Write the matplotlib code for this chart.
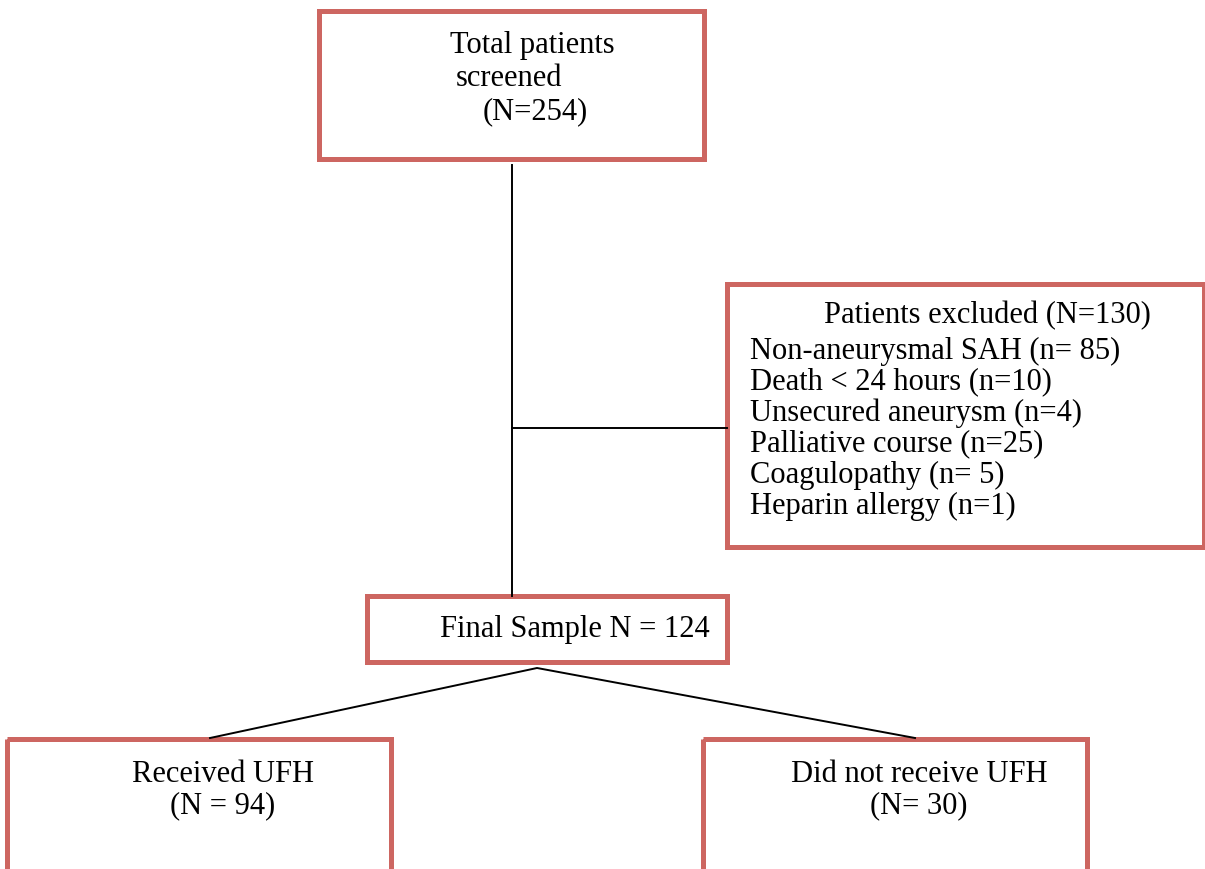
import matplotlib
matplotlib.use("Agg")
import matplotlib.pyplot as plt
from matplotlib.patches import Rectangle

# -- counts in the flow
total_n = 254
excluded_n = 130
final_n = 124
ufh_n = 94
no_ufh_n = 30

exclusion_reasons = ["Non-aneurysmal SAH (n= 85)", "Death < 24 hours (n=10)",
                     "Unsecured aneurysm (n=4)", "Palliative course (n=25)",
                     "Coagulopathy (n= 5)", "Heparin allergy (n=1)"]

RED = "#cd6661"
FONT = "Liberation Serif"
FS = 22

fig = plt.figure(figsize=(12.05, 8.69), dpi=100)
ax = fig.add_axes([0, 0, 1, 1])
ax.set_xlim(0, 1205)
ax.set_ylim(869, 0)
ax.axis("off")


def box(x0, y0, x1, y1):
    ax.add_patch(Rectangle((x0, y0), x1 - x0, y1 - y0, fill=False,
                           edgecolor=RED, linewidth=3.6, clip_on=False))


def txt(x, y, s, ha="left"):
    ax.text(x, y, s, fontsize=FS, family=FONT, va="center", ha=ha)


# connecting lines
ax.plot([512, 512], [165, 596], color="black", lw=1.4)
ax.plot([512, 727], [428, 428], color="black", lw=1.4)
ax.plot([210, 537, 915], [738, 668, 738], color="black", lw=1.4)

# boxes
box(319, 11, 704, 159)
box(727, 284, 1204, 547)
box(367, 596, 727, 662)
box(7, 739, 391, 880)
box(703, 739, 1087, 880)

# top box
txt(450, 46, "Total patients")
txt(456, 78, "screened")
txt(483, 112, "(N=%d)" % total_n)

# exclusion box
txt(824, 316, "Patients excluded (N=%d)" % excluded_n)
for i, r in enumerate(exclusion_reasons):
    txt(750, 351 + i * 31, r)

# final sample
txt(440, 630, "Final Sample N = %d" % final_n)

# arms
txt(223, 774, "Received UFH", ha="center")
txt(223, 806, "(N = %d)" % ufh_n, ha="center")
txt(919, 774, "Did not receive UFH", ha="center")
txt(919, 806, "(N= %d)" % no_ufh_n, ha="center")

plt.savefig("out.png", dpi=100)
